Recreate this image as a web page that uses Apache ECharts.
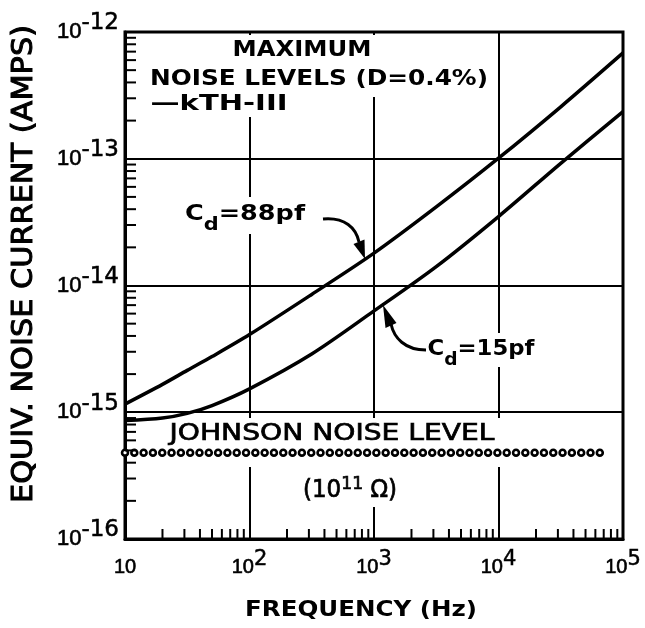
<!DOCTYPE html>
<html><head><meta charset="utf-8">
<script src="https://cdn.jsdelivr.net/npm/echarts@6/dist/echarts.min.js"></script>
<style>html,body{margin:0;padding:0;background:#fff}#c{width:645px;height:628px}</style>
</head><body><div id="c"></div>
<script>
// ---- data ----
const frequencies = [10, 20, 31.6, 50, 100, 316, 1000, 3162, 10000, 31623, 100000];
const noise88pf  = [1.16e-15, 1.66e-15, 2.14e-15, 2.75e-15, 4.1e-15, 8.5e-15, 1.8e-14, 4.17e-14, 1.01e-13, 2.57e-13, 6.84e-13];
const noise15pf  = [8.6e-16, 9.0e-16, 9.8e-16, 1.13e-15, 1.53e-15, 2.88e-15, 6.3e-15, 1.41e-14, 3.5e-14, 9.2e-14, 2.35e-13];
const johnsonFreq  = [10, 74000];
const johnsonLevel = [4.8e-16, 4.8e-16];
const xDecades = [10, 100, 1000, 10000];          // minor ticks at 2..9 x decade
const yDecades = [1e-16, 1e-15, 1e-14, 1e-13];
const minorMultipliers = [2, 3, 4, 5, 6, 7, 8, 9];

const FAM = '"DejaVu Sans"';
const LFAM = '"Liberation Sans"';
const INK = '#000';

const xMinor = [], yMinor = [];
xDecades.forEach(d => minorMultipliers.forEach(m => xMinor.push([d * m, 1e-16])));
yDecades.forEach(d => minorMultipliers.forEach(m => yMinor.push([10, d * m])));

// ---- text helper (measures, then stretches to the reference width) ----
const mctx = document.createElement('canvas').getContext('2d');
function measure(str, size, weight, fam) { mctx.font = weight + ' ' + size + 'px ' + fam; return mctx.measureText(str).width; }
function label(segs, cx, cy, targetW, rot, border) {
  const rich = {}; let text = ''; let natural = 0;
  segs.forEach((s, i) => {
    const size = s.size, weight = s.weight || 'bold', fam = s.fam || FAM, shift = s.shift || 0;
    const pad = shift > 0 ? [2 * shift, 0, 0, 0] : (shift < 0 ? [0, 0, -2 * shift, 0] : [0, 0, 0, 0]);
    const st = { fontSize: size, fontWeight: weight, fontFamily: fam, lineHeight: size, padding: pad, fill: INK };
    if (border) { st.stroke = INK; st.lineWidth = border; }
    rich['s' + i] = st;
    text += '{s' + i + '|' + s.t + '}';
    natural += measure(s.t, size, weight, fam);
  });
  return { type: 'text', x: cx, y: cy, rotation: rot || 0, scaleX: targetW / natural, z: 10,
    style: { text: text, rich: rich, align: 'center', verticalAlign: 'middle', fill: INK } };
}
function whiteRect(x, y, w, h) { return { type: 'rect', shape: { x: x, y: y, width: w, height: h }, style: { fill: '#fff' }, z: 1, silent: true }; }

const graphics = [
  whiteRect(145, 35, 351, 62), whiteRect(145, 97, 147, 20),
  whiteRect(180, 197, 132, 37), whiteRect(428, 333, 112, 34),
  whiteRect(130, 418, 485, 49), whiteRect(298, 467, 104, 40),
  label([{ t: 'MAXIMUM', size: 21 }], 302, 51, 139),
  label([{ t: 'NOISE LEVELS (D=0.4%)', size: 22 }], 319, 79, 338),
  label([{ t: '—kTH-III', size: 22 }], 219, 104, 137),
  label([{ t: 'C', size: 22 }, { t: 'd', size: 18, shift: 11 }, { t: '=88pf', size: 22 }], 245, 214, 120),
  label([{ t: 'C', size: 22 }, { t: 'd', size: 18, shift: 11 }, { t: '=15pf', size: 22 }], 481, 349, 107),
  label([{ t: 'JOHNSON NOISE LEVEL', size: 23, weight: 'normal' }], 332, 434, 325, 0, 0.7),
  label([{ t: '(10', size: 24, weight: 'normal' }, { t: '11', size: 18, weight: 'normal', shift: -7 }, { t: ' Ω)', size: 24, weight: 'normal' }], 350, 491, 94, 0, 0.7),
  label([{ t: 'FREQUENCY (Hz)', size: 22 }], 361, 610, 232),
  label([{ t: 'EQUIV. NOISE CURRENT (AMPS)', size: 28, weight: 'normal' }], 25, 264, 478, Math.PI / 2, 1),
  // arrows
  { type: 'bezierCurve', z: 10, shape: { x1: 323, y1: 219, cpx1: 345, cpy1: 217, cpx2: 356, cpy2: 228, x2: 359, y2: 242 }, style: { stroke: INK, lineWidth: 3, fill: null } },
  { type: 'polygon', z: 10, shape: { points: [[365, 259], [353.5, 244], [364.5, 239.5]] }, style: { fill: INK } },
  { type: 'bezierCurve', z: 10, shape: { x1: 426, y1: 350, cpx1: 405, cpy1: 350, cpx2: 394, cpy2: 338, x2: 391, y2: 324 }, style: { stroke: INK, lineWidth: 3, fill: null } },
  { type: 'polygon', z: 10, shape: { points: [[383, 305], [396.5, 323], [385.5, 328]] }, style: { fill: INK } }
];

function tickFmt(v) { const e = Math.round(Math.log10(v)); return e === 1 ? '{b|10}' : '{b|10}{s|' + e + '}'; }

const chart = echarts.init(document.getElementById('c'), null, { renderer: 'canvas' });
chart.setOption({
  animation: false,
  backgroundColor: '#fff',
  grid: { left: 125, right: 22, top: 32, bottom: 89, show: true, borderColor: INK, borderWidth: 3, backgroundColor: 'transparent' },
  xAxis: {
    type: 'log', logBase: 10, min: 10, max: 100000,
    axisLine: { show: true, lineStyle: { color: INK, width: 3 } },
    axisTick: { show: false },
    splitLine: { show: true, lineStyle: { color: INK, width: 2 } },
    axisLabel: { margin: 12, formatter: tickFmt, rich: {
      b: { fontSize: 20, fontFamily: LFAM, color: INK, lineHeight: 32, textBorderColor: INK, textBorderWidth: 0.6 },
      s: { fontSize: 21, fontFamily: FAM, color: INK, lineHeight: 21, padding: [0, 0, 14, 0], textBorderColor: INK, textBorderWidth: 0.5 } } }
  },
  yAxis: {
    type: 'log', logBase: 10, min: 1e-16, max: 1e-12,
    axisLine: { show: true, lineStyle: { color: INK, width: 3 } },
    axisTick: { show: false },
    splitLine: { show: true, lineStyle: { color: INK, width: 2 } },
    axisLabel: { margin: 6, formatter: tickFmt, rich: {
      b: { fontSize: 22, fontFamily: LFAM, color: INK, lineHeight: 40, textBorderColor: INK, textBorderWidth: 0.6 },
      s: { fontSize: 23, fontFamily: FAM, color: INK, lineHeight: 23, padding: [0, 0, 17, 0], textBorderColor: INK, textBorderWidth: 0.5 } } }
  },
  series: [
    { name: 'Cd=88pf', type: 'line', smooth: 0.3, showSymbol: false, z: 3,
      data: frequencies.map((f, i) => [f, noise88pf[i]]), lineStyle: { color: INK, width: 3.5 } },
    { name: 'Cd=15pf', type: 'line', smooth: 0.3, showSymbol: false, z: 3,
      data: frequencies.map((f, i) => [f, noise15pf[i]]), lineStyle: { color: INK, width: 3.5 } },
    { name: 'Johnson', type: 'line', showSymbol: false, z: 3,
      data: johnsonFreq.map((f, i) => [f, johnsonLevel[i]]),
      lineStyle: { color: INK, width: 8.5, type: [0.01, 9.3], cap: 'round' } },
    { name: 'JohnsonHole', type: 'line', showSymbol: false, z: 4,
      data: johnsonFreq.map((f, i) => [f, johnsonLevel[i]]),
      lineStyle: { color: '#fff', width: 3.3, type: [0.01, 9.3], cap: 'round' } },
    { type: 'custom', z: 5, clip: false, data: xMinor,
      renderItem: (p, api) => { const c = api.coord([api.value(0), api.value(1)]);
        return { type: 'line', shape: { x1: c[0], y1: c[1], x2: c[0], y2: c[1] - 10 }, style: { stroke: INK, lineWidth: 2 } }; } },
    { type: 'custom', z: 5, clip: false, data: yMinor,
      renderItem: (p, api) => { const c = api.coord([api.value(0), api.value(1)]);
        return { type: 'line', shape: { x1: c[0], y1: c[1], x2: c[0] + 11, y2: c[1] }, style: { stroke: INK, lineWidth: 2 } }; } }
  ],
  graphic: graphics
});
</script></body></html>
